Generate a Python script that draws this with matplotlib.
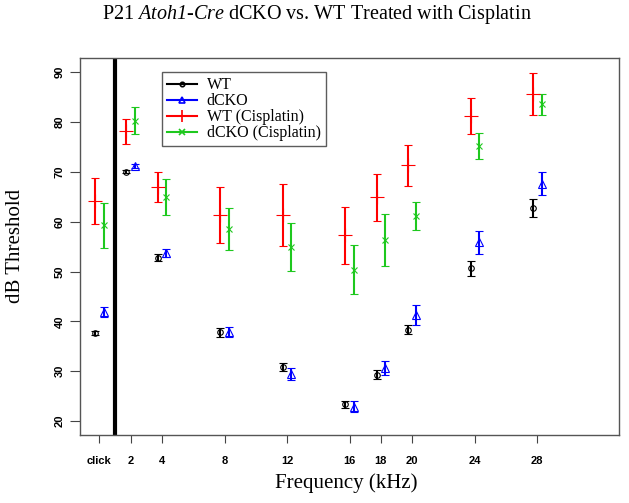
import numpy as np
import matplotlib
matplotlib.use('Agg')
import matplotlib.pyplot as plt
from matplotlib.lines import Line2D

plt.rcParams['mathtext.fontset'] = 'custom'
plt.rcParams['mathtext.rm'] = 'Liberation Serif:italic'
plt.rcParams['mathtext.it'] = 'Liberation Serif:italic'

freqs = [0, 2, 4, 8, 12, 16, 18, 20, 24, 28]
tick_labels = ['click', '2', '4', '8', '12', '16', '18', '20', '24', '28']

wt = [37.7, 70.0, 52.8, 37.8, 30.9, 23.4, 29.3, 38.3, 50.7, 62.8]
wt_err = [0.4, 0.3, 0.7, 0.9, 0.8, 0.7, 0.9, 0.9, 1.5, 1.8]
dcko = [41.8, 71.2, 53.7, 37.8, 29.4, 22.9, 30.6, 41.3, 55.9, 67.6]
dcko_err = [1.0, 0.4, 0.8, 1.0, 1.2, 1.1, 1.4, 2.0, 2.3, 2.3]
wt_cis = [64.1, 78.2, 67.0, 61.3, 61.3, 57.3, 64.9, 71.3, 81.2, 85.7]
wt_cis_err = [4.6, 2.5, 3.0, 5.6, 6.2, 5.7, 4.7, 4.2, 3.6, 4.2]
dcko_cis = [59.3, 80.3, 64.9, 58.5, 54.9, 50.4, 56.4, 61.2, 75.2, 83.6]
dcko_cis_err = [4.5, 2.7, 3.6, 4.2, 4.8, 5.0, 5.2, 2.8, 2.7, 2.1]

green = '#1ec81e'

fig = plt.figure(figsize=(6.29, 5.03), dpi=100)
ax = fig.add_axes([80/629, 1-435/503, 539.3/629, 376.7/503])

x = np.array(freqs, dtype=float)
series = [
    (x - 0.27, wt, wt_err, 'black', 'o', 4, 'WT'),
    (x + 0.27, dcko, dcko_err, 'blue', '^', 6, 'dCKO'),
    (x - 0.27, wt_cis, wt_cis_err, 'red', '+', 10, 'WT (Cisplatin)'),
    (x + 0.27, dcko_cis, dcko_cis_err, green, 'x', 5, 'dCKO (Cisplatin)'),
]
handles = []
for xs, ys, es, c, m, ms, lab in series:
    ax.errorbar(xs, ys, yerr=es, fmt=m, color=c, mfc='none', mec=c, ms=ms,
                mew=0.8, ecolor=c, elinewidth=1.5, capsize=3, capthick=1.5)
    handles.append(Line2D([], [], color=c, marker=m, mfc='none', ms=ms*0.8, mew=1.2, lw=1.5, label=lab))

ax.axvline(1, color='black', lw=3)

ax.set_xlim(-1.24, 33.24)
ax.set_ylim(17.2, 92.8)
ax.set_xticks(freqs)
ax.set_xticklabels(tick_labels, fontfamily='Liberation Sans', fontweight='bold', fontsize=8)
ax.set_yticks(np.arange(20, 91, 10))
ax.set_yticklabels([str(v) for v in range(20, 91, 10)], rotation=90, va='center',
                   fontfamily='Liberation Sans', fontweight='bold', fontsize=8)
ax.tick_params(axis='x', length=6, pad=9, color='#444444')
ax.tick_params(axis='y', length=7, pad=4, color='#444444')
for s in ax.spines.values():
    s.set_color('#555555')
    s.set_linewidth(1)

leg = ax.legend(handles=handles, loc='upper left', bbox_to_anchor=(82/539.3, 1-14/376.7),
                prop={'family': 'Liberation Serif', 'size': 11.5}, frameon=True, fancybox=False,
                handlelength=1.9, handletextpad=0.6, labelspacing=0.0, borderpad=0.3,
                borderaxespad=0)
leg.get_frame().set_edgecolor('#333333')
leg.get_frame().set_linewidth(1)

fig.text(317/629, 1-14/503, r'P21 $Atoh1$-$Cre$ dCKO vs. WT Treated with Cisplatin',
         ha='center', va='center', fontfamily='Liberation Serif', fontsize=14.5)
fig.text(15/629, 1-246/503, 'dB Threshold', rotation=90, ha='center', va='center',
         fontfamily='Liberation Serif', fontsize=15)
fig.text(346/629, 1-483/503, 'Frequency (kHz)', ha='center', va='center',
         fontfamily='Liberation Serif', fontsize=15)

plt.savefig('out.png', dpi=100)
